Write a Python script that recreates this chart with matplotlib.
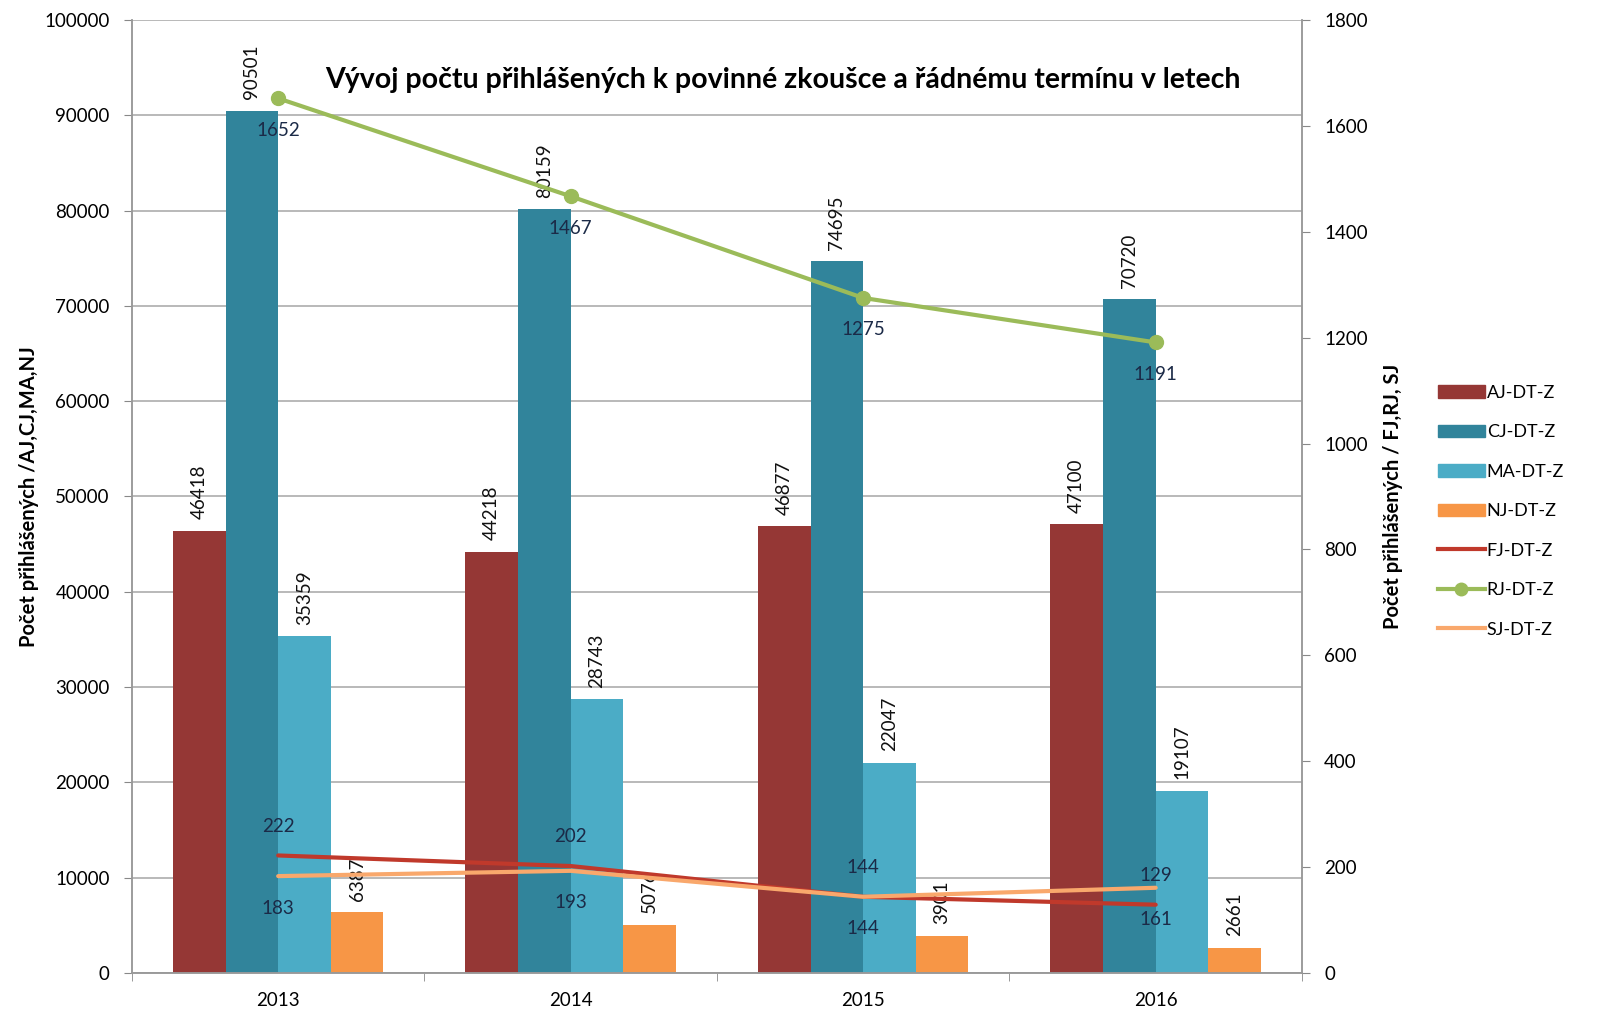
import numpy as np
import matplotlib
matplotlib.use('Agg')
import matplotlib.pyplot as plt
from matplotlib.lines import Line2D
from matplotlib.patches import Patch

plt.rcParams['font.family'] = ['Lato', 'DejaVu Sans']

years = ['2013', '2014', '2015', '2016']
aj = [46418, 44218, 46877, 47100]
cj = [90501, 80159, 74695, 70720]
ma = [35359, 28743, 22047, 19107]
nj = [6387, 5076, 3901, 2661]
fj = [222, 202, 144, 129]
rj = [1652, 1467, 1275, 1191]
sj = [183, 193, 144, 161]

bar_series = [('AJ-DT-Z', aj, '#953735'), ('CJ-DT-Z', cj, '#31849b'),
              ('MA-DT-Z', ma, '#4bacc6'), ('NJ-DT-Z', nj, '#f79646')]

fig = plt.figure(figsize=(16.01, 10.35), dpi=100)
ax = fig.add_axes([0.0824, 0.0599, 0.7308, 0.9208])
ax2 = ax.twinx()

x = np.arange(len(years))
w = 0.18
for k, (name, vals, col) in enumerate(bar_series):
    xs = x + (k - 1.5) * w
    ax.bar(xs, vals, width=w, color=col, zorder=2)
    for xi, v in zip(xs, vals):
        ax.text(xi, v + 1200, str(v), rotation=90, ha='center', va='bottom',
                fontsize=13.5, color='#111111', zorder=3)

ax.set_xlim(-0.5, 3.5)
ax.set_ylim(0, 100000)
ax.set_yticks(np.arange(0, 100001, 10000))
ax.yaxis.grid(True, color='#a6a6a6', linewidth=1.1, zorder=0)
ax.set_axisbelow(True)
ax.set_xticks(x)
ax.set_xticklabels(years)
ax.set_xticks(np.arange(-0.5, 3.6, 1), minor=True)
ax.tick_params(axis='x', which='major', length=0, pad=14, labelsize=13.5)
ax.tick_params(axis='x', which='minor', length=6, color='#888888')
ax.tick_params(axis='y', length=6, color='#888888', labelsize=13.5, pad=10)
ax.set_ylabel('Počet přihlášených /AJ,CJ,MA,NJ', fontsize=14.5, fontweight='bold', labelpad=4)

ax2.set_ylim(0, 1800)
ax2.set_yticks(np.arange(0, 1801, 200))
ax2.tick_params(axis='y', length=6, color='#888888', labelsize=13.5, pad=10)
ax2.set_ylabel('Počet přihlášených / FJ,RJ, SJ', fontsize=14.5, fontweight='bold', labelpad=11)

for a in (ax, ax2):
    for s in a.spines.values():
        s.set_color('#999999')
        s.set_linewidth(1.1)
    a.spines['top'].set_visible(False)

ax2.plot(x, fj, color='#c0392b', linewidth=3, solid_capstyle='round')
ax2.plot(x, sj, color='#f9a86c', linewidth=3, solid_capstyle='round')
ax2.plot(x, rj, color='#9bbb59', linewidth=3, marker='o', markersize=10)

lab_col = '#1b2a47'
for xi, v in zip(x, fj):
    ax2.annotate(str(v), (xi, v), xytext=(0, 21), textcoords='offset points',
                 ha='center', va='center', fontsize=13.5, color=lab_col)
for xi, v in zip(x, sj):
    ax2.annotate(str(v), (xi, v), xytext=(0, -23), textcoords='offset points',
                 ha='center', va='center', fontsize=13.5, color=lab_col)
for xi, v in zip(x, rj):
    ax2.annotate(str(v), (xi, v), xytext=(0, -23), textcoords='offset points',
                 ha='center', va='center', fontsize=13.5, color=lab_col)

ax2.text(0.556, 0.937, 'Vývoj počtu přihlášených k povinné zkoušce a řádnému termínu v letech',
         transform=ax2.transAxes, ha='center', va='center', fontsize=20.5, fontweight='bold')

handles = [Patch(color=c, label=n) for n, _, c in bar_series]
handles += [Line2D([], [], color='#c0392b', lw=3, label='FJ-DT-Z'),
            Line2D([], [], color='#9bbb59', lw=3, marker='o', markersize=9, label='RJ-DT-Z'),
            Line2D([], [], color='#f9a86c', lw=3, label='SJ-DT-Z')]
fig.legend(handles=handles, loc='center left', bbox_to_anchor=(0.888, 0.506), frameon=False,
           fontsize=13, labelspacing=1.3, handlelength=2.6, handletextpad=0.1)

fig.savefig('out.png', dpi=100)
